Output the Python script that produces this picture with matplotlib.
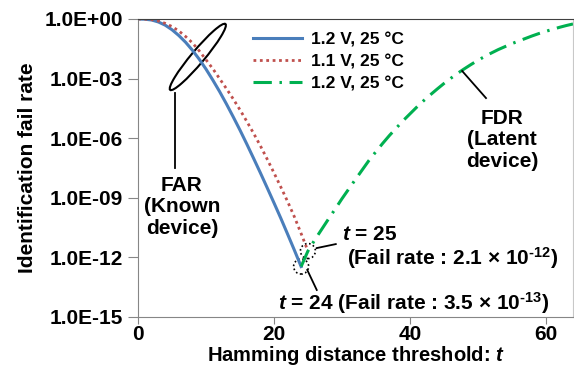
import numpy as np
import matplotlib
matplotlib.use("Agg")
import matplotlib.pyplot as plt
from matplotlib.patches import Ellipse
from matplotlib.transforms import ScaledTranslation
from matplotlib.ticker import NullLocator

plt.rcParams["font.family"] = ["Liberation Sans", "DejaVu Sans"]
plt.rcParams["font.weight"] = "bold"
plt.rcParams["mathtext.fontset"] = "custom"
plt.rcParams["mathtext.rm"] = "Liberation Sans:bold"
plt.rcParams["mathtext.it"] = "Liberation Sans:italic:bold"
plt.rcParams["mathtext.bf"] = "Liberation Sans:bold"

# data: log10 of identification fail rate
t_far_12 = list(range(0, 25))
far_12 = [0, -0.01, -0.05, -0.15, -0.31, -0.54, -0.83, -1.17, -1.57, -2.02,
          -2.52, -3.07, -3.65, -4.27, -4.92, -5.59, -6.29, -7.01, -7.74, -8.49,
          -9.25, -10.02, -10.82, -11.63, -12.46]

t_far_11 = list(range(0, 26))
far_11 = [0, -0.005, -0.03, -0.1, -0.22, -0.38, -0.6, -0.88, -1.2, -1.6,
          -2.05, -2.5, -3.0, -3.5, -4.02, -4.57, -5.15, -5.75, -6.38, -7.05,
          -7.74, -8.45, -9.18, -9.95, -10.8, -11.68]

t_fdr = list(range(24, 65))
fdr_12 = [-12.46, -11.68, -11.12, -10.6, -10.08, -9.57, -9.05, -8.56, -8.07, -7.59,
          -7.11, -6.68, -6.26, -5.86, -5.49, -5.12, -4.78, -4.44, -4.12, -3.82,
          -3.53, -3.25, -2.99, -2.74, -2.51, -2.29, -2.08, -1.89, -1.71, -1.54,
          -1.39, -1.24, -1.11, -0.98, -0.85, -0.73, -0.62, -0.52, -0.42, -0.33,
          -0.25]

labels = ["1.2 V, 25 °C", "1.1 V, 25 °C", "1.2 V, 25 °C"]
ytick_exp = [0, -3, -6, -9, -12, -15]
xticks = [0, 20, 40, 60]

fs = 15

fig = plt.figure(figsize=(5.74, 3.71), dpi=100)
ax = fig.add_axes([138 / 574, 1 - 317 / 371, 435 / 574, 298 / 371])

ax.plot(t_far_12, 10.0 ** np.array(far_12), color="#4a7ebb", lw=2.2, label=labels[0])
ax.plot(t_far_11, 10.0 ** np.array(far_11), color="#c0504d", lw=2.0,
        linestyle=(0, (1, 1.3)), label=labels[1])
ax.plot(t_fdr, 10.0 ** np.array(fdr_12), color="#00b050", lw=2.2,
        linestyle=(0, (6, 2.5, 0.8, 2.5)), label=labels[2])

ax.set_yscale("log")
ax.set_ylim(1e-15, 1)
ax.set_xlim(0, 64)
ax.set_yticks([10.0 ** e for e in ytick_exp])
ax.set_yticklabels([f"1.0E{e:+03d}" for e in ytick_exp])
ax.yaxis.set_minor_locator(NullLocator())
ax.set_xticks(xticks)
ax.tick_params(axis="both", labelsize=fs, color="#868686", direction="out")
ax.tick_params(axis="y", length=7, pad=4)
ax.tick_params(axis="x", length=5, pad=1)

for side in ["left", "bottom"]:
    ax.spines[side].set_color("#868686")
ax.spines["top"].set_color("#404040")
ax.spines["right"].set_color("#c8c8c8")

ax.set_ylabel("Identification fail rate", fontsize=fs, fontweight="bold", labelpad=5)
ax.set_xlabel("Hamming distance threshold: $t$", fontsize=14.5, fontweight="bold", labelpad=0)

leg = ax.legend(loc="upper left", bbox_to_anchor=(0.245, 0.985), frameon=False,
                fontsize=12.5, handlelength=2.8, handletextpad=0.5, labelspacing=0.4,
                borderpad=0)


def anchored(x, y):
    # inch-based shapes placed at a data point
    return fig.dpi_scale_trans + ScaledTranslation(x, y, ax.transData)


# FAR ellipse and label
ax.add_patch(Ellipse((0, 0), 0.86, 0.13, angle=50, fill=False, lw=1.5,
                     color="black", transform=anchored(8.8, 10 ** -1.91)))
ax.plot([5.44, 5.44], [10 ** -3.72, 10 ** -7.5], color="black", lw=1.3)
ax.text(6.47, 10 ** -9.46, "FAR\n(Known\ndevice)", ha="center", va="center",
        fontsize=fs, linespacing=1.15)

# dotted circles at the minimum points
ax.add_patch(Ellipse((0, 0), 0.15, 0.15, fill=False, lw=1.2, linestyle=(0, (1, 1.5)),
                     color="black", transform=anchored(t_far_12[24], 10 ** far_12[24])))
ax.add_patch(Ellipse((0, 0), 0.15, 0.15, fill=False, lw=1.2, linestyle=(0, (1, 1.5)),
                     color="black", transform=anchored(t_far_11[25], 10 ** far_11[25])))

ax.plot([26.3, 29.1], [10 ** -11.53, 10 ** -11.33], color="black", lw=1.3)
ax.text(30.0, 10 ** -10.85, "$t$ = 25", ha="left", va="center", fontsize=fs)
ax.text(30.7, 10 ** -12.03, r"(Fail rate : 2.1 × 10$^{\text{-12}}$)",
        ha="left", va="center", fontsize=fs)

ax.plot([24.9, 26.3], [10 ** -12.63, 10 ** -13.64], color="black", lw=1.3)
ax.text(20.6, 10 ** -14.3, r"$t$ = 24 (Fail rate : 3.5 × 10$^{\text{-13}}$)",
        ha="left", va="center", fontsize=fs)

# FDR label
ax.plot([47.7, 51.2], [10 ** -2.62, 10 ** -3.98], color="black", lw=1.3)
ax.text(53.55, 10 ** -6.09, "FDR\n(Latent\ndevice)", ha="center", va="center",
        fontsize=fs, linespacing=1.15)

fig.savefig("out.png", dpi=100)
